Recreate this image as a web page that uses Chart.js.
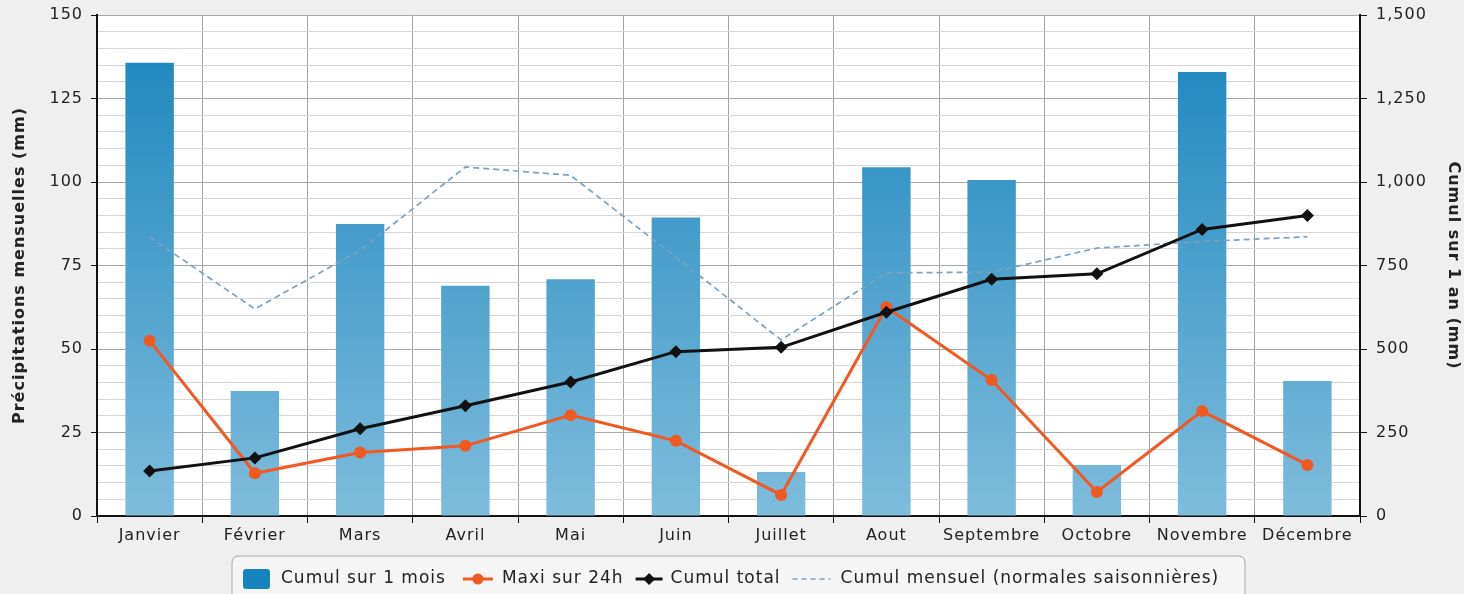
<!DOCTYPE html>
<html>
<head>
<meta charset="utf-8">
<script src="https://cdn.jsdelivr.net/npm/chart.js@4.4.1/dist/chart.umd.min.js"></script>
<style>
  html, body { margin: 0; padding: 0; background: #efefef; }
  canvas { display: block; }
</style>
</head>
<body>
<canvas id="pluie" width="1464" height="594"></canvas>
<script>
// Mois de l'année
const mois = ['Janvier', 'Février', 'Mars', 'Avril', 'Mai', 'Juin', 'Juillet', 'Aout', 'Septembre', 'Octobre', 'Novembre', 'Décembre'];

// Cumul sur 1 mois (mm)
const cumulMois = [135.7, 37.4, 87.4, 68.9, 70.9, 89.4, 13.2, 104.4, 100.6, 15.3, 132.9, 40.4];

// Maxi sur 24h (mm)
const maxi24h = [52.5, 12.8, 19.0, 21.0, 30.2, 22.5, 6.3, 62.5, 40.7, 7.2, 31.4, 15.3];

// Cumul total depuis janvier (mm)
const cumulTotal = [135, 174, 261, 330, 401, 492, 505, 610, 709, 725, 858, 900];

// Cumul mensuel des normales saisonnières (mm)
const normales = [835, 620, 795, 1045, 1020, 775, 527, 728, 730, 802, 822, 836];

// Graduations des axes
const echelleGauche = { min: 0, max: 150, pas: 5, pasMajeur: 25 };
const echelleDroite = { min: 0, max: 1500, pas: 250 };

const FONT = 'DejaVu Sans';
const ESPACEMENT = '1px';
const BLEU_HAUT = '#1884bd';
const BLEU_BAS = '#7fbcdc';
const ORANGE = '#f05a22';
const NOIR = '#111111';
const POINTILLE = '#7aa2c2';

function degradeBarres(ctx) {
  const area = ctx.chart.chartArea;
  if (!area) return BLEU_HAUT;
  const g = ctx.chart.ctx.createLinearGradient(0, area.top, 0, area.bottom);
  g.addColorStop(0, BLEU_HAUT);
  g.addColorStop(1, BLEU_BAS);
  return g;
}

// Taille fixe des axes, sans marge automatique pour les étiquettes extrêmes
function tailleFixe(prop, valeur) {
  return (s) => {
    s[prop] = valeur;
    s.paddingTop = 0; s.paddingBottom = 0;
    s.paddingLeft = 0; s.paddingRight = 0;
  };
}

const fondPlugin = {
  id: 'fond',
  beforeDraw(chart) {
    const c = chart.ctx, a = chart.chartArea;
    c.save();
    c.fillStyle = '#efefef';
    c.fillRect(0, 0, chart.width, chart.height);
    c.fillStyle = '#ffffff';
    c.fillRect(a.left, a.top, a.right - a.left, a.bottom - a.top);
    c.restore();
    // léger espacement des lettres pour tous les textes
    c.letterSpacing = ESPACEMENT;
  }
};

// Légende dessinée dans un cadre arrondi sous le graphique
const legendePlugin = {
  id: 'legendeCadre',
  afterDraw(chart) {
    const c = chart.ctx;
    const yMid = 579;
    c.save();
    c.letterSpacing = ESPACEMENT;
    // cadre
    const bx = 232, by = 556, bw = 1013, bh = 50, r = 7;
    c.beginPath();
    c.moveTo(bx + r, by);
    c.lineTo(bx + bw - r, by);
    c.quadraticCurveTo(bx + bw, by, bx + bw, by + r);
    c.lineTo(bx + bw, by + bh);
    c.lineTo(bx, by + bh);
    c.lineTo(bx, by + r);
    c.quadraticCurveTo(bx, by, bx + r, by);
    c.closePath();
    c.fillStyle = '#f5f5f5';
    c.fill();
    c.strokeStyle = '#a9a9a9';
    c.lineWidth = 1;
    c.stroke();

    c.font = '17px "' + FONT + '"';
    c.textBaseline = 'middle';
    const ds = chart.data.datasets;
    let x = 243;

    // barres
    c.fillStyle = BLEU_HAUT;
    c.beginPath();
    c.roundRect(x, yMid - 10, 27, 20, 3);
    c.fill();
    x += 27 + 11;
    c.fillStyle = '#222';
    c.fillText(ds[0].label, x, yMid);
    x += c.measureText(ds[0].label).width + 17;

    // Maxi sur 24h
    c.strokeStyle = ORANGE; c.lineWidth = 3;
    c.beginPath(); c.moveTo(x, yMid); c.lineTo(x + 30, yMid); c.stroke();
    c.fillStyle = ORANGE;
    c.beginPath(); c.arc(x + 15, yMid, 5.5, 0, Math.PI * 2); c.fill();
    x += 30 + 9;
    c.fillStyle = '#222';
    c.fillText(ds[1].label, x, yMid);
    x += c.measureText(ds[1].label).width + 12;

    // Cumul total
    c.strokeStyle = NOIR; c.lineWidth = 3;
    c.beginPath(); c.moveTo(x, yMid); c.lineTo(x + 27, yMid); c.stroke();
    c.fillStyle = NOIR;
    c.beginPath();
    c.moveTo(x + 13.5, yMid - 6); c.lineTo(x + 19.5, yMid); c.lineTo(x + 13.5, yMid + 6); c.lineTo(x + 7.5, yMid);
    c.closePath(); c.fill();
    x += 27 + 8;
    c.fillStyle = '#222';
    c.fillText(ds[2].label, x, yMid);
    x += c.measureText(ds[2].label).width + 12;

    // Normales
    c.strokeStyle = POINTILLE; c.lineWidth = 1.5;
    c.setLineDash([5, 4]);
    c.beginPath(); c.moveTo(x, yMid); c.lineTo(x + 38, yMid); c.stroke();
    c.setLineDash([]);
    x += 38 + 10;
    c.fillStyle = '#222';
    c.fillText(ds[3].label, x, yMid);
    c.restore();
  }
};

new Chart(document.getElementById('pluie'), {
  data: {
    labels: mois,
    datasets: [
      {
        type: 'bar',
        label: 'Cumul sur 1 mois',
        data: cumulMois,
        yAxisID: 'y',
        backgroundColor: degradeBarres,
        borderWidth: 0,
        categoryPercentage: 1,
        barPercentage: 0.46,
        order: 4
      },
      {
        type: 'line',
        label: 'Maxi sur 24h',
        data: maxi24h,
        yAxisID: 'y',
        borderColor: ORANGE,
        backgroundColor: ORANGE,
        borderWidth: 3,
        pointStyle: 'circle',
        pointRadius: 6,
        pointBorderWidth: 0,
        tension: 0,
        order: 2
      },
      {
        type: 'line',
        label: 'Cumul total',
        data: cumulTotal,
        yAxisID: 'y1',
        borderColor: NOIR,
        backgroundColor: NOIR,
        borderWidth: 3,
        pointStyle: 'rectRot',
        pointRadius: 6.5,
        pointBorderWidth: 0,
        tension: 0,
        order: 1
      },
      {
        type: 'line',
        label: 'Cumul mensuel (normales saisonnières)',
        data: normales,
        yAxisID: 'y1',
        borderColor: POINTILLE,
        borderWidth: 1.7,
        borderDash: [6, 4],
        pointRadius: 0,
        tension: 0,
        order: 3
      }
    ]
  },
  options: {
    responsive: false,
    animation: false,
    devicePixelRatio: 1,
    layout: { padding: { top: 15, left: 0, right: 0, bottom: 0 } },
    plugins: {
      legend: { display: false },
      tooltip: { enabled: false }
    },
    scales: {
      x: {
        offset: true,
        grid: {
          offset: true,
          color: '#a3a3a3',
          lineWidth: 1,
          tickLength: 7,
          tickColor: '#111'
        },
        border: { color: '#111', width: 2 },
        ticks: {
          color: '#222',
          font: { family: FONT, size: 16 },
          padding: 3,
          maxRotation: 0,
          autoSkip: false
        },
        afterFit: tailleFixe('height', 78)
      },
      y: {
        position: 'left',
        min: echelleGauche.min,
        max: echelleGauche.max,
        grid: {
          color: (ctx) => (ctx.tick && ctx.tick.value % echelleGauche.pasMajeur === 0) ? '#a8a8a8' : '#d6d6d6',
          lineWidth: 1,
          tickLength: 6,
          tickColor: (ctx) => (ctx.tick && ctx.tick.value % echelleGauche.pasMajeur === 0) ? '#111' : 'rgba(0,0,0,0)'
        },
        border: { color: '#111', width: 2 },
        ticks: {
          stepSize: echelleGauche.pas,
          autoSkip: false,
          color: '#222',
          font: { family: FONT, size: 16 },
          padding: 8,
          callback: (v) => (v % echelleGauche.pasMajeur === 0 ? String(v) : '')
        },
        title: {
          display: true,
          text: 'Précipitations mensuelles (mm)',
          color: '#222',
          font: { family: FONT, size: 16, weight: 'bold' },
          padding: { top: 10, bottom: 0 }
        },
        afterFit: tailleFixe('width', 97)
      },
      y1: {
        position: 'right',
        min: echelleDroite.min,
        max: echelleDroite.max,
        grid: {
          drawOnChartArea: false,
          tickLength: 7,
          tickColor: '#111'
        },
        border: { color: '#111', width: 2 },
        ticks: {
          stepSize: echelleDroite.pas,
          color: '#222',
          font: { family: FONT, size: 16 },
          padding: 9,
          callback: (v) => v.toLocaleString('en-US')
        },
        title: {
          display: true,
          text: 'Cumul sur 1 an (mm)',
          color: '#222',
          font: { family: FONT, size: 16, weight: 'bold' },
          padding: { top: 1, bottom: 0 }
        },
        afterFit: tailleFixe('width', 104)
      }
    }
  },
  plugins: [fondPlugin, legendePlugin]
});
</script>
</body>
</html>
